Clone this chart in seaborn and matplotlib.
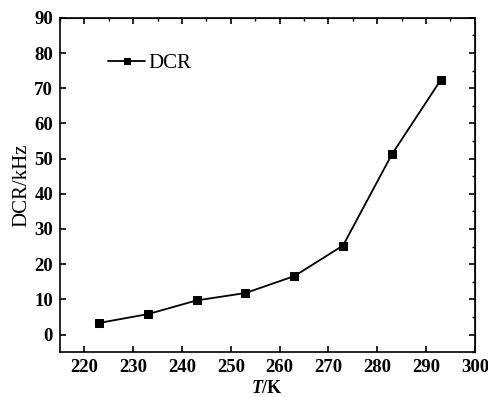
import matplotlib
matplotlib.use('Agg')
import matplotlib.pyplot as plt
import seaborn as sns
import pandas as pd
from matplotlib.ticker import MultipleLocator

temps = [223, 233, 243, 253, 263, 273, 283, 293]
dcr = [3.3, 5.8, 9.7, 11.8, 16.6, 25.3, 51.2, 72.3]

df = pd.DataFrame({'T': temps, 'DCR': dcr})

sns.set_style('ticks')
plt.rcParams['font.family'] = ['Liberation Serif', 'DejaVu Serif']
plt.rcParams['text.color'] = 'black'
plt.rcParams['axes.labelcolor'] = 'black'
plt.rcParams['xtick.color'] = 'black'
plt.rcParams['ytick.color'] = 'black'
plt.rcParams['mathtext.fontset'] = 'custom'
plt.rcParams['mathtext.rm'] = 'Liberation Serif'
plt.rcParams['mathtext.it'] = 'Liberation Serif:italic:bold'
plt.rcParams['mathtext.bf'] = 'Liberation Serif:bold'

fig, ax = plt.subplots(figsize=(4.88, 3.97), dpi=100)
sns.lineplot(data=df, x='T', y='DCR', ax=ax, color='black', marker='s',
             markersize=6, markeredgecolor='black', linewidth=1.3, label='DCR')

ax.set_xlim(215, 300)
ax.set_ylim(-5, 90)
ax.xaxis.set_major_locator(MultipleLocator(10))
ax.yaxis.set_major_locator(MultipleLocator(10))

for s in ax.spines.values():
    s.set_visible(True)
    s.set_linewidth(1.2)
    s.set_color('black')

ax.tick_params(direction='in', length=4, width=1.2, labelsize=13.5, pad=5)
for lab in ax.get_xticklabels() + ax.get_yticklabels():
    lab.set_fontweight('bold')

# top/right ticks with minors, as in the original
top = ax.secondary_xaxis('top')
top.xaxis.set_major_locator(MultipleLocator(10))
top.xaxis.set_minor_locator(MultipleLocator(5))
top.tick_params(which='major', direction='in', length=4, width=1.2, labeltop=False)
top.tick_params(which='minor', direction='in', length=2.5, width=1.0)
right = ax.secondary_yaxis('right')
right.yaxis.set_major_locator(MultipleLocator(10))
right.yaxis.set_minor_locator(MultipleLocator(5))
right.tick_params(which='major', direction='in', length=4, width=1.2, labelright=False)
right.tick_params(which='minor', direction='in', length=2.5, width=1.0)

ax.set_xlabel(r'$\mathit{T}$/K', fontsize=13, fontweight='bold', labelpad=3)
ax.set_ylabel('DCR/kHz', fontsize=15, labelpad=2)

leg = ax.legend(loc='upper left', bbox_to_anchor=(0.07, 0.95), frameon=False,
                fontsize=15, handlelength=1.8, handletextpad=0.15, markerscale=0.75)

fig.subplots_adjust(left=0.123, right=0.973, top=0.955, bottom=0.113)
fig.savefig('out.png', dpi=100)
